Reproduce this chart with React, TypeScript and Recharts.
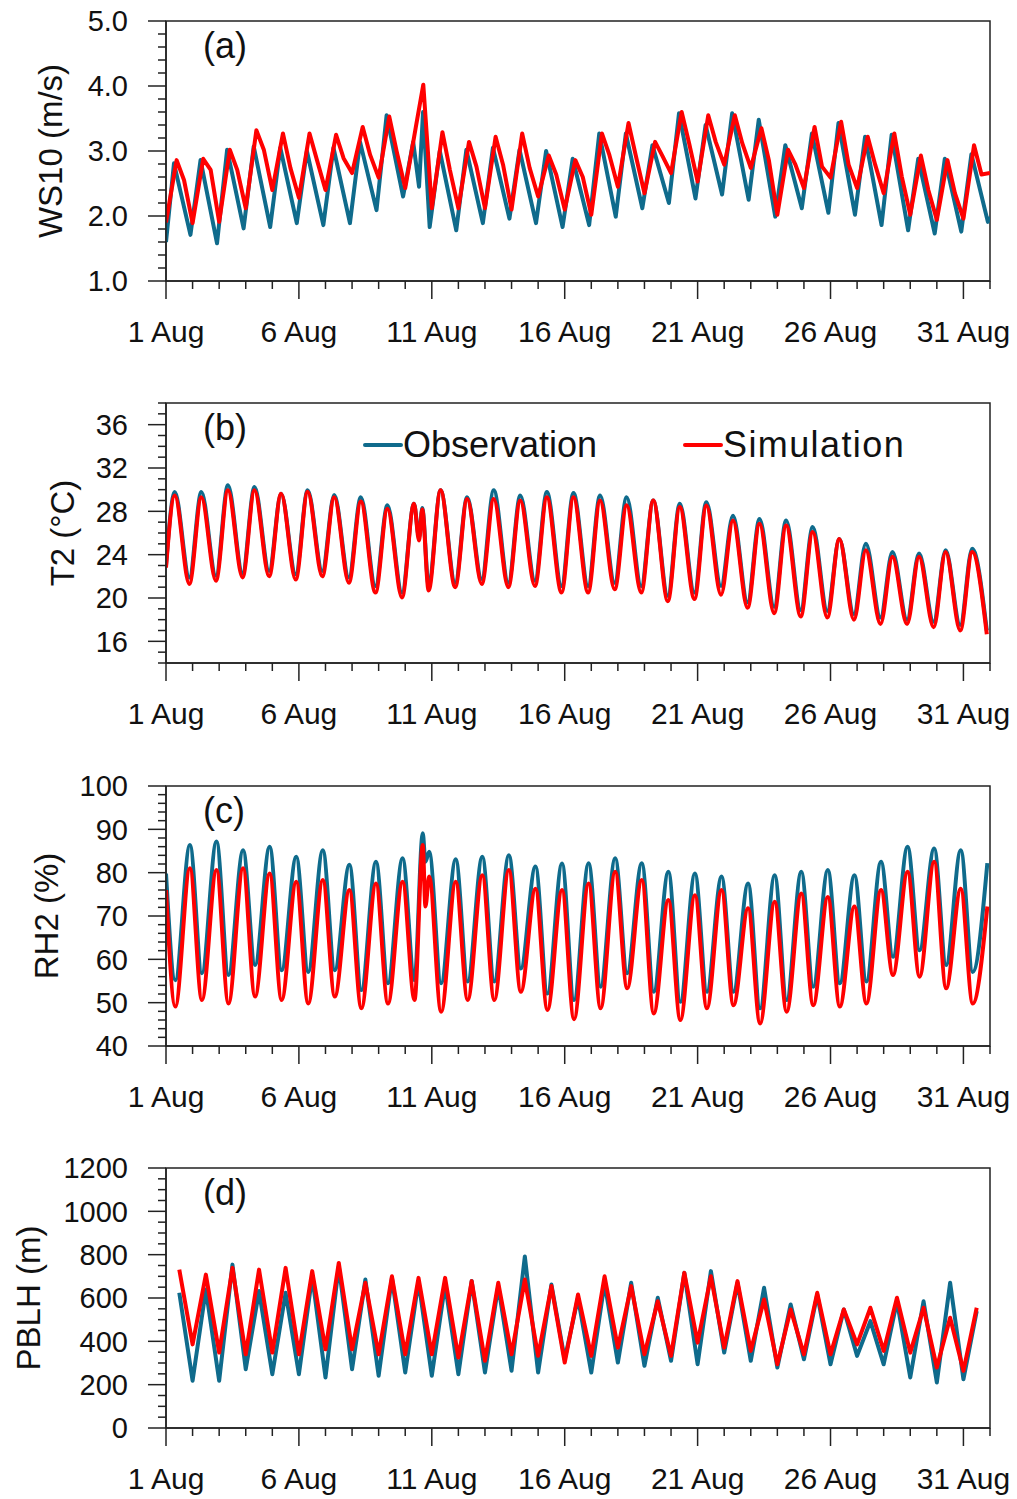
import React from 'react';
import { LineChart, Line, XAxis, YAxis, ReferenceArea, Legend } from 'recharts';

const FONT = '"Liberation Sans", Arial, Helvetica, sans-serif';
const OBS_COLOR = '#0f6b8c';
const SIM_COLOR = '#ff0000';
const AXIS = '#222';

// x axis (days of August)
const dayTicks = Array.from({ length: 32 }, (_, i) => i + 1);
const majorDays = [1, 6, 11, 16, 21, 26, 31];
const dayLabels = ['1 Aug', '6 Aug', '11 Aug', '16 Aug', '21 Aug', '26 Aug', '31 Aug'];

// ---- (a) WS10, one value per day ----
const wsObsPeak = [2.81, 2.86, 3.02, 3.07, 3.05, 3.0, 3.05, 3.14, 3.55, 3.14, 3.0, 3.02, 3.05, 3.02, 3.0, 2.88, 3.27, 3.27, 3.09, 3.58, 3.4, 3.58, 3.48, 3.09, 3.27, 3.43, 3.22, 3.25, 2.88, 2.88, 2.95];
const wsObsTrough = [1.71, 1.58, 1.81, 1.83, 1.89, 1.86, 1.89, 2.09, 2.3, 1.83, 1.78, 1.89, 1.96, 1.89, 1.83, 1.86, 1.99, 2.12, 2.2, 2.27, 2.33, 2.25, 1.99, 2.12, 2.05, 2.02, 1.86, 1.78, 1.73, 1.76, 1.91];
const wsObsExtra = [{ t: 1.0, v: 1.6 }, { t: 10.52, v: 2.45 }, { t: 10.67, v: 3.6 }, { t: 31.97, v: 1.99 }];
const wsSimPeak = [2.86, 2.88, 3.02, 3.32, 3.27, 3.27, 3.25, 3.37, 3.53, 3.37, 3.29, 3.14, 3.22, 3.27, 2.93, 2.86, 3.27, 3.43, 3.14, 3.6, 3.55, 3.55, 3.35, 3.02, 3.37, 3.45, 3.22, 3.27, 2.93, 2.86, 3.09];
const wsSimMid = [2.55, 2.71, 2.71, 3.02, 2.74, 2.86, 2.89, 2.94, 2.99, 4.02, 2.71, 2.76, 2.79, 2.74, 2.64, 2.6, 2.94, 2.92, 2.92, 3.12, 3.14, 3.12, 2.86, 2.79, 2.76, 2.79, 2.79, 2.61, 2.4, 2.35, 2.64];
const wsSimTrough = [1.89, 1.91, 2.12, 2.4, 2.28, 2.4, 2.66, 2.59, 2.43, 2.12, 2.12, 2.12, 2.1, 2.3, 2.1, 2.02, 2.45, 2.35, 2.66, 2.53, 2.79, 2.74, 2.02, 2.43, 2.59, 2.43, 2.35, 2.02, 1.94, 1.96, 2.66];
const wsSimExtra = [{ t: 1.0, v: 1.9 }];

// ---- (b) T2 ----
const t2ObsPeak = [29.78, 29.78, 30.4, 30.25, 29.63, 29.94, 29.5, 29.3, 28.55, 28.7, 29.94, 29.3, 29.94, 29.47, 29.78, 29.7, 29.47, 29.3, 29.0, 28.7, 28.85, 27.6, 27.3, 27.15, 26.55, 25.45, 25.0, 24.25, 24.1, 24.4, 24.55];
const t2ObsTrough = [21.9, 22.05, 22.3, 22.5, 22.2, 22.5, 21.9, 21.1, 20.5, 21.2, 21.4, 21.75, 21.4, 21.6, 21.1, 21.1, 21.4, 21.1, 20.2, 20.5, 21.1, 19.6, 19.2, 18.9, 18.8, 18.5, 18.2, 18.0, 17.8, 17.5, 17.0];
const t2ObsExtra = [{ t: 1.0, v: 23.0 }, { t: 10.52, v: 25.6 }, { t: 10.64, v: 28.3 }];
const t2SimPeak = [29.47, 29.3, 29.94, 29.94, 29.63, 29.8, 29.3, 28.9, 28.24, 28.7, 29.94, 29.15, 29.15, 29.0, 29.3, 29.3, 29.0, 28.55, 29.0, 28.4, 28.55, 27.15, 26.85, 26.7, 26.1, 25.45, 24.4, 23.8, 23.8, 24.25, 24.25];
const t2SimTrough = [21.3, 21.6, 21.9, 22.0, 21.7, 22.0, 21.4, 20.5, 20.05, 20.7, 21.0, 21.3, 21.0, 21.1, 20.5, 20.5, 20.8, 20.5, 19.7, 19.9, 20.3, 19.1, 18.6, 18.3, 18.2, 18.0, 17.6, 17.6, 17.3, 17.0, 16.65];
const t2SimExtra = [{ t: 1.0, v: 22.8 }, { t: 10.52, v: 25.3 }, { t: 10.64, v: 28.2 }];

// ---- (c) RH2 ----
const rhObsPeak = [86.4, 87.2, 85.2, 86.0, 83.7, 85.2, 81.8, 82.5, 83.3, 84.8, 83.1, 83.7, 84.0, 81.4, 82.1, 82.2, 83.3, 82.2, 80.2, 79.8, 79.1, 77.5, 79.4, 80.2, 80.6, 79.4, 82.5, 86.0, 85.6, 85.2, 82.2];
const rhObsTrough = [55.2, 56.8, 56.4, 58.7, 57.5, 57.1, 57.5, 52.9, 54.5, 55.2, 54.5, 54.9, 54.9, 57.9, 52.1, 50.6, 53.7, 56.8, 52.5, 50.2, 52.5, 52.5, 48.7, 50.6, 53.7, 54.5, 54.9, 60.6, 62.1, 58.7, 57.1];
const rhObsExtra = [{ t: 1.0, v: 79.8 }, { t: 10.66, v: 89.1 }, { t: 10.76, v: 82.5 }];
const rhSimPeak = [81.0, 80.6, 81.0, 79.8, 77.9, 78.3, 76.0, 77.5, 77.9, 79.1, 77.9, 79.4, 80.6, 76.3, 76.0, 77.5, 80.2, 78.3, 73.7, 74.8, 76.0, 71.8, 73.3, 75.2, 74.4, 72.2, 76.0, 80.2, 82.5, 76.3, 72.2];
const rhSimTrough = [49.1, 50.6, 49.8, 51.4, 50.6, 49.8, 51.4, 48.7, 49.8, 50.6, 47.9, 50.6, 50.6, 52.5, 48.3, 46.2, 48.7, 53.3, 47.5, 46.0, 48.7, 49.4, 45.2, 47.9, 49.4, 49.1, 49.8, 56.4, 56.0, 53.3, 49.8];
const rhSimExtra = [{ t: 1.0, v: 76.0 }, { t: 10.66, v: 86.4 }, { t: 10.76, v: 72.2 }];

// ---- (d) PBLH, twice daily from 1.5 Aug ----
const pblhObs = [624, 218, 639, 218, 754, 271, 632, 248, 624, 248, 700, 233, 746, 271, 685, 241, 693, 256, 678, 241, 662, 248, 678, 256, 655, 264, 792, 256, 662, 317, 601, 256, 670, 302, 670, 287, 601, 310, 716, 294, 724, 348, 670, 310, 647, 279, 570, 317, 616, 294, 547, 333, 493, 294, 585, 233, 585, 210, 670, 225, 539];
const pblhSim = [731, 386, 708, 348, 739, 340, 731, 348, 739, 340, 724, 363, 762, 363, 670, 340, 700, 340, 693, 340, 693, 325, 678, 310, 670, 340, 685, 333, 655, 302, 616, 333, 700, 371, 655, 340, 585, 333, 716, 394, 700, 371, 678, 356, 593, 294, 547, 340, 624, 340, 547, 386, 555, 356, 601, 348, 555, 279, 509, 264, 555];

type Pt = { t: number; v: number };

// one value per day placed at a fixed time of day, merged and sorted
function daily(parts: [number, number[]][], extra: Pt[]): Pt[] {
  const pts: Pt[] = [...extra];
  parts.forEach(([phase, vals]) => vals.forEach((v, i) => pts.push({ t: i + 1 + phase, v })));
  return pts.sort((a, b) => a.t - b.t);
}

function twiceDaily(vals: number[]): Pt[] {
  return vals.map((v, i) => ({ t: 1.5 + i * 0.5, v }));
}

function minorTicks(lo: number, hi: number, step: number) {
  const out: number[] = [];
  const n = Math.round((hi - lo) / step);
  for (let i = 0; i <= n; i++) out.push(+(lo + i * step).toFixed(4));
  return out;
}

const panels = [
  {
    tag: '(a)', title: 'WS10 (m/s)', titleX: 50, top: 0, domain: [1, 5], step: 0.2, curve: 'linear',
    majors: [1, 2, 3, 4, 5], labels: ['1.0', '2.0', '3.0', '4.0', '5.0'],
    obs: daily([[0.3, wsObsPeak], [0.92, wsObsTrough]], wsObsExtra),
    sim: daily([[0.4, wsSimPeak], [0.68, wsSimMid], [1.0, wsSimTrough]], wsSimExtra),
  },
  {
    tag: '(b)', title: 'T2 (°C)', titleX: 62, top: 382, domain: [14, 38], step: 1, curve: 'monotone',
    majors: [16, 20, 24, 28, 32, 36], labels: ['16', '20', '24', '28', '32', '36'],
    obs: daily([[0.33, t2ObsPeak], [0.88, t2ObsTrough]], t2ObsExtra),
    sim: daily([[0.33, t2SimPeak], [0.88, t2SimTrough]], t2SimExtra),
    legend: true,
  },
  {
    tag: '(c)', title: 'RH2 (%)', titleX: 46, top: 765, domain: [40, 100], step: 2, curve: 'monotone',
    majors: [40, 50, 60, 70, 80, 90, 100], labels: ['40', '50', '60', '70', '80', '90', '100'],
    obs: daily([[0.35, rhObsTrough], [0.9, rhObsPeak]], rhObsExtra),
    sim: daily([[0.35, rhSimTrough], [0.9, rhSimPeak]], rhSimExtra),
  },
  {
    tag: '(d)', title: 'PBLH (m)', titleX: 28, top: 1147, domain: [0, 1200], step: 50, curve: 'linear',
    majors: [0, 200, 400, 600, 800, 1000, 1200], labels: ['0', '200', '400', '600', '800', '1000', '1200'],
    obs: twiceDaily(pblhObs),
    sim: twiceDaily(pblhSim),
  },
];

function XTick(props: any) {
  const { x, y, payload } = props;
  const idx = majorDays.indexOf(payload.value);
  const major = idx >= 0;
  return (
    <g>
      <line x1={x} x2={x} y1={y} y2={y + (major ? 18 : 8)} stroke={AXIS} strokeWidth={1.5} />
      {major && (
        <text x={x} y={y + 61} textAnchor="middle" fontSize={30} fontFamily={FONT} fill="#111">
          {dayLabels[idx]}
        </text>
      )}
    </g>
  );
}

function YTick(props: any) {
  const { x, y, payload, majors, labels } = props;
  const idx = majors.findIndex((m: number) => Math.abs(m - payload.value) < 1e-6);
  const major = idx >= 0;
  return (
    <g>
      <line x1={x - (major ? 18 : 8)} x2={x} y1={y} y2={y} stroke={AXIS} strokeWidth={1.5} />
      {major && (
        <text x={x - 38} y={y} dy="0.36em" textAnchor="end" fontSize={29} fontFamily={FONT} fill="#111">
          {labels[idx]}
        </text>
      )}
    </g>
  );
}

function YTitle({ text, cx }: { text: string; cx: number }) {
  const cy = 151;
  return (
    <text x={cx} y={cy} dy="0.36em" transform={`rotate(-90, ${cx}, ${cy})`} textAnchor="middle" fontSize={33} fontFamily={FONT} fill="#111">
      {text}
    </text>
  );
}

function PanelTag({ text }: { text: string }) {
  return (
    <text x={203} y={58} fontSize={36} fontFamily={FONT} fill="#111">
      {text}
    </text>
  );
}

function LegendBox(props: any) {
  const items = props.payload || [];
  const lefts = [363, 683];
  const spacing = [0, 1.4];
  return (
    <div style={{ position: 'relative', width: 1017, height: 40 }}>
      {items.map((it: any, i: number) => (
        <div key={it.value} style={{ position: 'absolute', left: lefts[i], top: 0, height: 40, display: 'flex', alignItems: 'center' }}>
          <div style={{ width: 40, height: 4, background: it.color, borderRadius: 2 }} />
          <span style={{ fontFamily: FONT, fontSize: 36, lineHeight: '40px', color: '#111', letterSpacing: spacing[i] }}>{it.value}</span>
        </div>
      ))}
    </div>
  );
}

export default function App() {
  return (
    <div style={{ position: 'absolute', left: 0, top: 0, width: 1017, height: 1499, background: '#fff', fontFamily: FONT }}>
      {panels.map((p) => (
        <div key={p.tag} style={{ position: 'absolute', left: 0, top: p.top, width: 1017, height: 380 }}>
          <LineChart width={1017} height={380} margin={{ top: 21, right: 27, left: 0, bottom: 0 }}>
            <XAxis
              type="number" dataKey="t" domain={[1, 32]} ticks={dayTicks} interval={0}
              tick={<XTick />} tickSize={0} tickMargin={0} tickLine={false}
              axisLine={{ stroke: AXIS, strokeWidth: 1.5 }} height={99} allowDataOverflow
            />
            <YAxis
              type="number" dataKey="v" domain={p.domain} ticks={minorTicks(p.domain[0], p.domain[1], p.step)} interval={0}
              tick={<YTick majors={p.majors} labels={p.labels} />} tickSize={0} tickMargin={0} tickLine={false}
              axisLine={{ stroke: AXIS, strokeWidth: 1.5 }} width={166} allowDataOverflow
              label={<YTitle text={p.title} cx={p.titleX} />}
            />
            <ReferenceArea
              x1={1} x2={32} y1={p.domain[0]} y2={p.domain[1]} ifOverflow="visible"
              fill="none" fillOpacity={0} stroke={AXIS} strokeWidth={1.5}
              label={<PanelTag text={p.tag} />}
            />
            <Line data={p.obs} dataKey="v" name="Observation" type={p.curve as any} stroke={OBS_COLOR} strokeWidth={4} dot={false} isAnimationActive={false} strokeLinejoin="round" />
            <Line data={p.sim} dataKey="v" name="Simulation" type={p.curve as any} stroke={SIM_COLOR} strokeWidth={4} dot={false} isAnimationActive={false} strokeLinejoin="round" />
            {p.legend && (
              <Legend
                layout="horizontal" verticalAlign="middle" align="center"
                content={<LegendBox />}
                wrapperStyle={{ left: 0, top: 43, width: 1017, height: 40 }}
              />
            )}
          </LineChart>
        </div>
      ))}
    </div>
  );
}
